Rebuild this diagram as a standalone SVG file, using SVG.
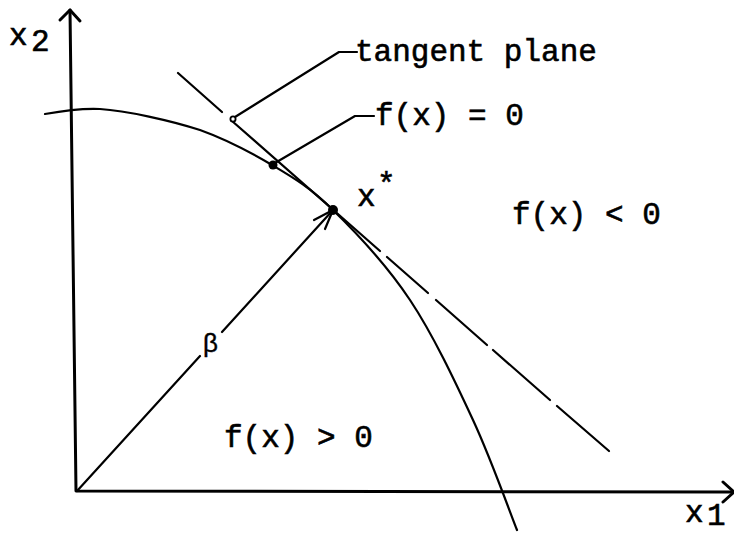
<svg xmlns="http://www.w3.org/2000/svg" width="734" height="533" viewBox="0 0 734 533">
<style>
.t{font-family:"Liberation Mono","DejaVu Sans Mono",monospace;font-size:31px;fill:#000;stroke:#000;stroke-width:0.6}
.ax{stroke:#000;stroke-width:3;fill:none;stroke-linecap:round;stroke-linejoin:round}
.ln{stroke:#000;stroke-width:2.2;fill:none;stroke-linecap:round;stroke-linejoin:round}
</style>
<rect width="734" height="533" fill="#fff"/>
<g id="axes">
<path class="ax" d="M70,10 L76,491 L734,492"/>
<path class="ax" d="M60,20 L70,10 L80,21"/>
<path class="ax" d="M723,482 L734,492 L723,502"/>
</g>
<g id="surface">
<path class="ln" stroke-width="2.6" d="M45,114 C56,112 78,108 100,109 C125.8,110.5 171.3,120.7 200,130 C228.7,140.3 249.8,151.8 272,165 C294.2,178.2 310,187.5 333,210 C356,232.5 386.7,265 410,300 C433.3,335 455.2,381.7 473,420 C490.8,458.3 509.7,511.7 517,530"/>
</g>
<g id="tangent">
<path class="ln" d="M178,73 L222,112 M232,121 L380,251 M387,257 L428,293 M436,300 L487,345 M493,350 L550,400 M557,406 L609,451"/>
</g>
<g id="connectors">
<path class="ln" d="M235,117 L339,52 L357,52"/>
<path class="ln" d="M275,163 L355,116 L374,116"/>
<path class="ln" d="M77,491 L200,356 M222,332 L333,210"/>
<path class="ln" d="M314,220 L333,210 L325,229"/>
</g>
<g id="points">
<circle cx="233" cy="119" r="2.6" fill="#fff" stroke="#000" stroke-width="1.8"/>
<circle cx="273" cy="165" r="4.5" fill="#000"/>
<circle cx="333" cy="210" r="5" fill="#000"/>
</g>
<g id="labels">
<text class="t" x="9" y="45" font-size="29">x</text>
<text class="t" x="31" y="51" font-size="17">2</text>
<text class="t" x="355" y="61">tangent plane</text>
<text class="t" x="375" y="125">f(x) = 0</text>
<text class="t" x="357" y="206" font-size="28">x</text>
<text class="t" x="377" y="194" font-size="26">*</text>
<text class="t" x="512" y="224">f(x) &lt; 0</text>
<text x="203" y="352" font-family="Liberation Sans, Arial, sans-serif" font-size="26" fill="#000" stroke="#000" stroke-width="0.4">β</text>
<text class="t" x="224" y="447">f(x) &gt; 0</text>
<text class="t" x="685" y="522" font-size="28">x</text>
<text class="t" x="707" y="525" font-size="15">1</text>
</g>
</svg>
